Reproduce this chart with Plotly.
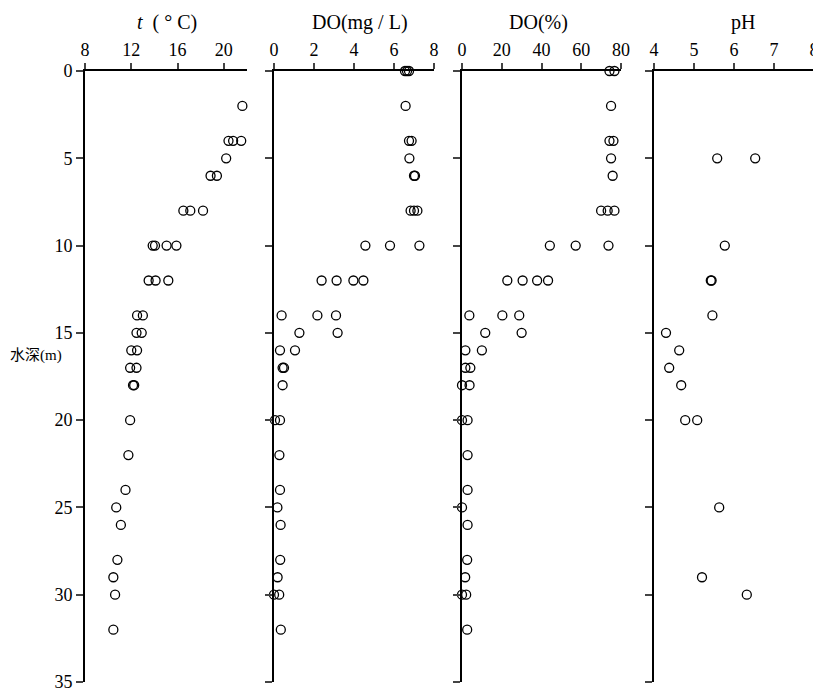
import plotly.graph_objects as go

# ---- data ----
t_depth = [2, 4, 4, 4, 5, 6, 6, 8, 8, 8, 10, 10, 10, 10, 12, 12, 12, 14, 14, 15, 15,
           16, 16, 17, 17, 18, 18, 20, 22, 24, 25, 26, 28, 29, 30, 32]
t_vals = [21.6, 20.4, 20.8, 21.5, 20.2, 18.85, 19.4, 16.5, 17.1, 18.2, 13.85, 14.05, 15.05, 15.9,
          13.5, 14.1, 15.2, 12.5, 13.0, 12.45, 12.9, 12.0, 12.5, 11.9, 12.45, 12.15, 12.25,
          11.9, 11.75, 11.5, 10.7, 11.1, 10.8, 10.45, 10.6, 10.45]

do_depth = [0, 0, 0, 2, 4, 4, 5, 6, 6, 8, 8, 8, 10, 10, 10, 12, 12, 12, 12, 14, 14, 14,
            15, 15, 16, 16, 17, 17, 18, 20, 20, 22, 24, 25, 26, 28, 29, 30, 30, 32]
do_vals = [6.55, 6.65, 6.75, 6.58, 6.75, 6.88, 6.77, 7.0, 7.05, 6.83, 7.0, 7.17, 4.57, 5.8, 7.27,
           2.38, 3.13, 3.97, 4.47, 0.38, 2.17, 3.1, 1.27, 3.18, 0.3, 1.05, 0.43, 0.5, 0.43,
           0.05, 0.3, 0.27, 0.3, 0.17, 0.33, 0.31, 0.18, 0.0, 0.26, 0.34]

dop_depth = [0, 0, 2, 4, 4, 5, 6, 8, 8, 8, 10, 10, 10, 12, 12, 12, 12, 14, 14, 14, 15, 15,
             16, 16, 17, 17, 18, 18, 20, 20, 22, 24, 25, 26, 28, 29, 30, 30, 32]
dop_vals = [74.2, 76.7, 75.0, 74.2, 76.2, 75.0, 75.8, 70.0, 73.3, 76.7, 44.2, 57.2, 73.7,
            22.8, 30.5, 37.8, 43.3, 3.7, 20.3, 28.8, 11.7, 30.0, 1.7, 10.0, 1.7, 4.2, 0.0, 3.8,
            0.0, 2.8, 2.8, 2.8, 0.0, 2.8, 2.6, 1.6, 0.0, 2.1, 2.6]

ph_depth = [5, 5, 10, 12, 12, 14, 15, 16, 17, 18, 20, 20, 25, 29, 30]
ph_vals = [5.58, 6.53, 5.77, 5.42, 5.44, 5.46, 4.3, 4.63, 4.38, 4.68, 4.78, 5.08, 5.63, 5.2, 6.32]

panel_titles = ["<i>t</i>  ( \u00b0 C)", "DO(mg / L)", "DO(%)", "pH"]
x_ranges = [[8, 22], [0, 8], [0, 80], [4, 8]]
x_ticks = [[8, 12, 16, 20], [0, 2, 4, 6, 8], [0, 20, 40, 60, 80], [4, 5, 6, 7, 8]]
depth_ticks = [0, 5, 10, 15, 20, 25, 30, 35]
y_label = "水深(m)"

# ---- layout geometry (page places the figure 8px from the window's top-left) ----
OFF = 8
W, H = 821 - OFF, 693 - OFF
px_domains = [(85, 247), (274, 434), (462, 621), (654, 814)]
y_top, y_bot = 71, 682


def fx(px):
    return (px - OFF) / W


def fy(py):
    return 1 - (py - OFF) / H


ydom = [fy(y_bot), fy(y_top)]

FONT = "Liberation Serif"

fig = go.Figure()
series = [(t_vals, t_depth), (do_vals, do_depth), (dop_vals, dop_depth), (ph_vals, ph_depth)]
for i, (xv, yv) in enumerate(series):
    sfx = "" if i == 0 else str(i + 1)
    fig.add_trace(go.Scatter(
        x=xv, y=yv, mode="markers",
        xaxis="x" + sfx, yaxis="y" + sfx,
        marker=dict(symbol="circle-open", size=9, color="black", line=dict(width=1.3)),
        cliponaxis=False, showlegend=False,
    ))

layout = dict(
    width=W, height=H, autosize=False,
    margin=dict(l=0, r=0, t=0, b=0, autoexpand=False),
    paper_bgcolor="white", plot_bgcolor="white",
    font=dict(family=FONT, color="black", size=18),
)
for i in range(4):
    sfx = "" if i == 0 else str(i + 1)
    d0, d1 = px_domains[i]
    layout["xaxis" + sfx] = dict(
        domain=[fx(d0), fx(d1)], range=x_ranges[i], side="top", automargin=False,
        anchor="y" + sfx, tickvals=x_ticks[i], ticks="outside", ticklen=6, tickwidth=1.5,
        showline=True, linewidth=2, linecolor="black", showgrid=False, zeroline=False,
        tickfont=dict(size=18, family=FONT),
    )
    layout["yaxis" + sfx] = dict(
        domain=ydom, range=[35, 0], anchor="x" + sfx, automargin=False,
        tickvals=depth_ticks, ticks="outside", ticklen=7, tickwidth=1.5,
        showticklabels=(i == 0), showline=True, linewidth=2, linecolor="black",
        showgrid=False, zeroline=False, tickfont=dict(size=18, family=FONT),
    )
fig.update_layout(**layout)

title_x = [167, 360, 538, 743]
for i, txt in enumerate(panel_titles):
    fig.add_annotation(text=txt, x=fx(title_x[i]), y=fy(22), xref="paper", yref="paper",
                       showarrow=False, xanchor="center", yanchor="middle",
                       font=dict(size=20, family=FONT))

fig.add_annotation(text=y_label, x=fx(8), y=fy(355), xref="paper", yref="paper",
                   showarrow=False, xanchor="left", yanchor="middle",
                   font=dict(size=15, family="Liberation Serif, Noto Sans CJK SC"))

fig.write_html("out.html")
